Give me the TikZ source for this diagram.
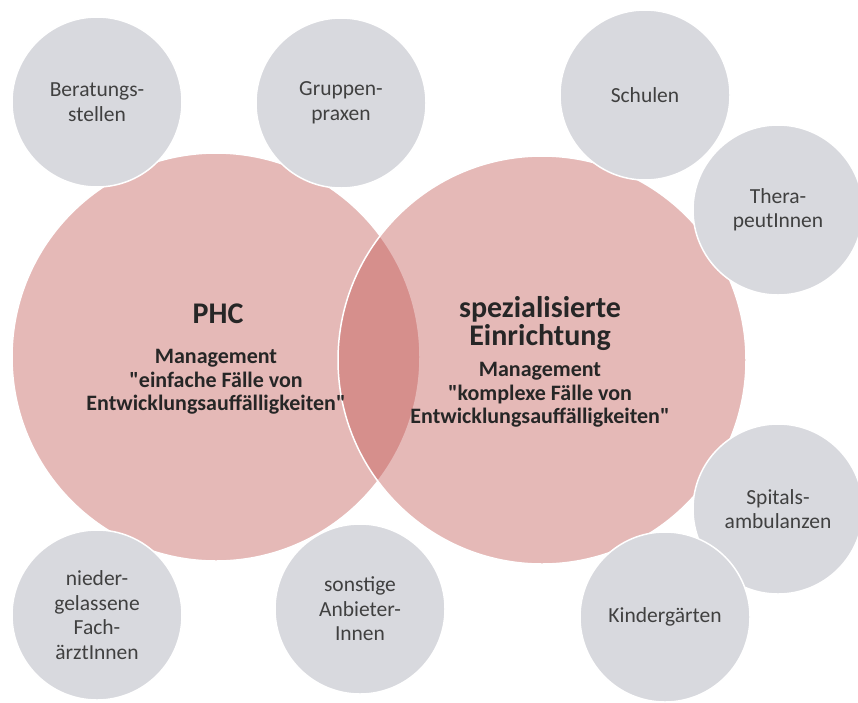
\documentclass[tikz,border=0pt]{standalone}
\usepackage{fontspec}
\setmainfont{Carlito}[Ligatures=TeXOff]
\usetikzlibrary{shapes}
\definecolor{pinkfill}{HTML}{C0504D}
\definecolor{greyfill}{HTML}{D8D9DE}
\definecolor{greytext}{HTML}{404040}

\begin{document}
\begin{tikzpicture}[x=1pt,y=-1pt,
    big/.style={circle,fill=pinkfill,fill opacity=.4,draw=white,draw opacity=1,line width=1.5pt,minimum size=408pt,inner sep=0pt},
    small/.style={circle,fill=greyfill,draw=white,line width=1.5pt,minimum size=170pt,inner sep=0pt,align=center,text=greytext,font=\fontsize{21.5}{24.5}\selectfont},
    head/.style={align=center,inner sep=0pt,text=black!85,font=\fontsize{30}{28}\selectfont\bfseries},
    body/.style={align=center,inner sep=0pt,text=black!85,font=\fontsize{22}{23.5}\selectfont\bfseries}]
    \fill[white](0,0)rectangle(858,702);
    \useasboundingbox(0,0)rectangle(858,702);
    \node[big](phc)at(216,357){};
    \node[big](spez)at(542,360){};
    \node[head](phctitle)at(218,314){PHC};
    \node[body](phcbody)at(216,382){Management\\"einfache Fälle von\\Entwicklungsauffälligkeiten"};
    \node[head](speztitle)at(540,324){spezialisierte\\Einrichtung};
    \node[body](spezbody)at(540,395){Management\\"komplexe Fälle von\\Entwicklungsauffälligkeiten"};
    \node[small](berat)at(97,102){Beratungs-\\stellen};
    \node[small](grupp)at(341,103){Gruppen-\\praxen};
    \node[small](schul)at(645,95){Schulen};
    \node[small](thera)at(778,210){Thera-\\peutInnen};
    \node[small](nieder)at(97,615){nieder-\\gelassene\\Fach-\\ärztInnen};
    \node[small](sonst)at(360,609){sonstige\\Anbieter-\\Innen};
    \node[small](spital)at(778,509){Spitals-\\ambulanzen};
    \node[small](kinder)at(665,617){Kindergärten};
\end{tikzpicture}
\end{document}
